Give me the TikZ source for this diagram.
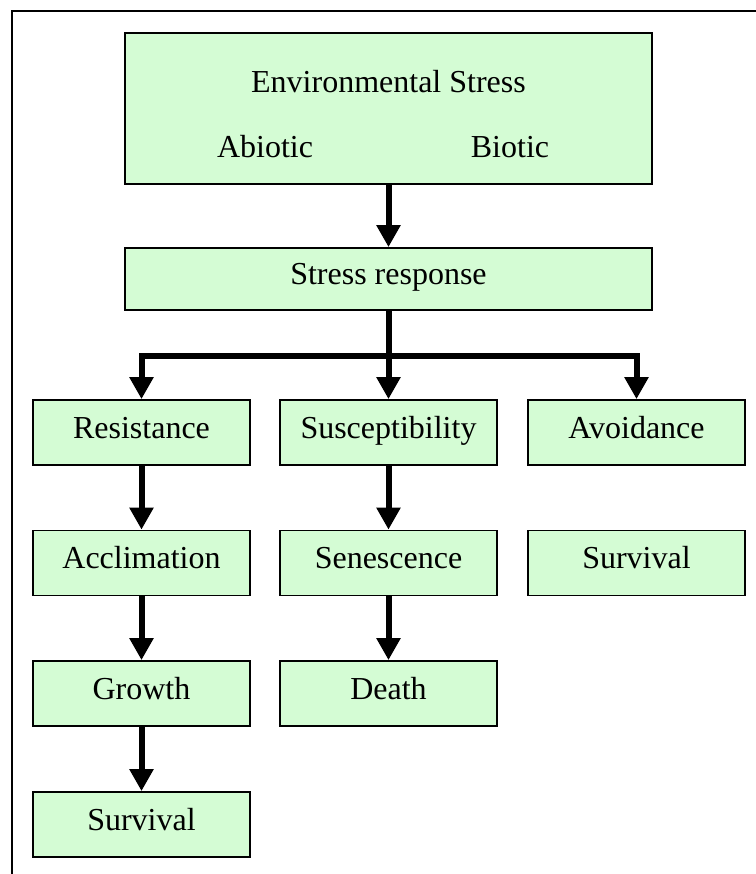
\documentclass[tikz,border=0pt]{standalone}
\usepackage{fontspec}
\setmainfont{Liberation Serif}
\usetikzlibrary{arrows.meta}
\definecolor{boxgreen}{RGB}{212,252,212}

\begin{document}
\begin{tikzpicture}[x=0.5pt,y=-0.5pt]
\tikzstyle{every node}+=[font=\fontsize{16}{19}\selectfont]
\tikzstyle{box}=[draw=black, line width=0.9pt, fill=boxgreen, minimum width=108.5pt, minimum height=32.5pt, inner sep=0pt, text height=0.72em, text depth=0.16em]
\tikzstyle{flow}=[line width=3pt, -{Triangle[length=11pt,width=11.5pt]}]
\tikzstyle{trunk}=[line width=3pt]
\useasboundingbox (0,0) rectangle (756,874);
\draw [black, line width=1pt] (756,11) -- (12,11) -- (12,874);
\node [box, minimum width=263.5pt, minimum height=75.5pt] (env) at (388.5,108.5) {};
\node [anchor=base] (envtitle) at (388.5,92) {Environmental Stress};
\node [anchor=base] (abiotic) at (265,157) {Abiotic};
\node [anchor=base] (biotic) at (510,157) {Biotic};
\node [box, minimum width=263.5pt, minimum height=31pt] (resp) at (388.5,279) {Stress response};
\node [box] (resist) at (141.5,432.5) {Resistance};
\node [box] (suscep) at (388.5,432.5) {Susceptibility};
\node [box] (avoid) at (636.5,432.5) {Avoidance};
\node [box] (acclim) at (141.5,563) {Acclimation};
\node [box] (senes) at (388.5,563) {Senescence};
\node [box] (survright) at (636.5,563) {Survival};
\node [box] (growth) at (141.5,693.5) {Growth};
\node [box] (death) at (388.5,693.5) {Death};
\node [box] (survleft) at (141.5,824.5) {Survival};
\coordinate (split) at (388.5,356);
\draw [flow] (env.south) -- (resp.north);
\draw [trunk] (resp.south) -- (split);
\draw [flow] (split) -| (resist.north);
\draw [flow] (split) -- (suscep.north);
\draw [flow] (split) -| (avoid.north);
\draw [flow] (resist.south) -- (acclim.north);
\draw [flow] (acclim.south) -- (growth.north);
\draw [flow] (growth.south) -- (survleft.north);
\draw [flow] (suscep.south) -- (senes.north);
\draw [flow] (senes.south) -- (death.north);
\end{tikzpicture}
\end{document}
